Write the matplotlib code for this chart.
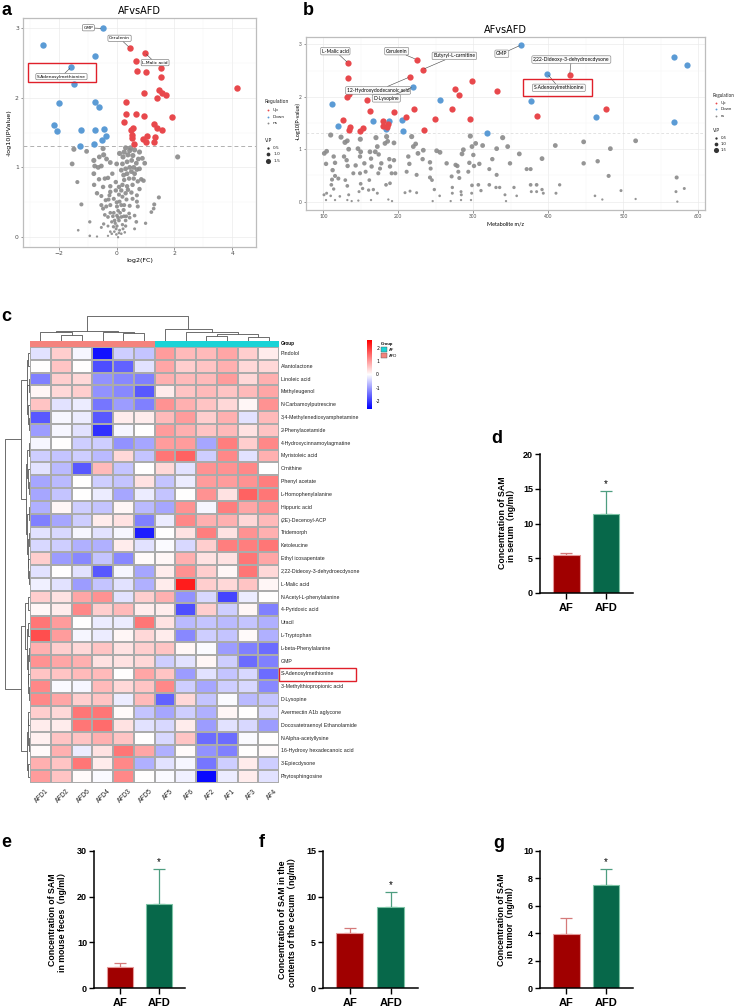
import numpy as np
import matplotlib
matplotlib.use("Agg")
import matplotlib.pyplot as plt
from matplotlib.colors import LinearSegmentedColormap, ListedColormap
from matplotlib.patches import Rectangle

# ---------------- data ----------------
# panel a : volcano (log2FC, -log10 p, VIP)
a_up_fc = [0.46, 0.98, 0.68, 0.71, 1.00, 1.52, 1.54, 4.15, 1.46, 1.57, 0.95, 1.72, 1.40, 0.34, 0.34, 0.67,
           0.94, 1.91, 0.26, 1.29, 0.55, 1.39, 1.57, 0.49, 0.53, 0.53, 1.05, 1.34, 0.90, 1.00, 1.28, 0.61]
a_up_p = [2.71, 2.64, 2.52, 2.38, 2.36, 2.42, 2.30, 2.14, 2.11, 2.07, 2.06, 2.04, 2.00, 1.93, 1.77, 1.76,
          1.73, 1.72, 1.65, 1.62, 1.56, 1.57, 1.54, 1.54, 1.47, 1.42, 1.45, 1.44, 1.40, 1.36, 1.36, 1.34]
a_dn_fc = [-0.48, -2.55, -0.76, -1.57, -1.48, -1.98, -0.76, -0.61, -2.18, -2.05, -1.24, -0.76, -0.44,
           -0.37, -0.49, -1.28, -0.80]
a_dn_p = [2.99, 2.76, 2.59, 2.44, 2.20, 1.92, 1.94, 1.87, 1.61, 1.52, 1.53, 1.54, 1.55, 1.45, 1.39, 1.31, 1.34]
a_ns = [(-1.48, 1.26, 1.1), (-1.04, 1.23, 1.0), (-1.54, 1.05, 1.0), (-1.36, 0.79, 0.8), (-1.22, 0.47, 0.8),
        (-0.93, 0.22, 0.6), (-1.33, 0.10, 0.4), (-0.93, 0.02, 0.4), (-0.68, 0.01, 0.3), (-0.47, 1.27, 1.1),
        (-0.45, 1.18, 1.1), (-0.79, 1.10, 1.1), (-0.76, 1.02, 1.0), (-0.64, 1.00, 1.0), (-0.53, 1.02, 1.0),
        (-0.79, 0.91, 1.0), (-0.22, 1.07, 1.0), (-0.15, 0.91, 0.9), (-0.30, 0.85, 0.9), (-0.41, 0.84, 0.9),
        (-0.61, 0.83, 0.9), (-0.78, 0.75, 0.9), (-0.47, 0.72, 0.9), (-0.68, 0.63, 0.9), (-0.22, 0.73, 0.9),
        (-0.22, 0.65, 0.9), (-0.53, 0.59, 0.8), (-0.38, 0.53, 0.8), (-0.28, 0.54, 0.8), (-0.53, 0.46, 0.8),
        (-0.47, 0.41, 0.8), (-0.36, 0.44, 0.8), (-0.22, 0.46, 0.8), (-0.41, 0.32, 0.7), (-0.30, 0.29, 0.7),
        (-0.22, 0.35, 0.7), (-0.13, 0.30, 0.7), (-0.07, 0.24, 0.7), (0.01, 0.31, 0.7), (0.08, 0.24, 0.7),
        (0.16, 0.29, 0.7), (-0.17, 0.22, 0.6), (-0.45, 0.19, 0.6), (-0.30, 0.16, 0.5), (-0.11, 0.15, 0.6),
        (0.01, 0.16, 0.6), (0.10, 0.10, 0.5), (-0.01, 0.04, 0.4), (0.05, 0.00, 0.3), (-0.17, 0.05, 0.4),
        (-0.30, 0.02, 0.3), (0.20, 0.18, 0.6), (0.31, 0.24, 0.7), (0.33, 0.30, 0.7), (0.45, 0.28, 0.7),
        (0.43, 0.34, 0.7), (0.62, 0.31, 0.7), (0.68, 0.22, 0.7), (0.31, 0.16, 0.6), (0.22, 0.12, 0.5),
        (0.16, 0.05, 0.4), (0.24, 0.39, 0.8), (0.16, 0.46, 0.8), (0.26, 0.46, 0.8), (0.10, 0.51, 0.8),
        (0.01, 0.44, 0.8), (0.34, 0.54, 0.8), (0.20, 0.58, 0.8), (0.08, 0.61, 0.8), (-0.03, 0.67, 0.9),
        (0.16, 0.67, 0.9), (0.31, 0.63, 0.9), (0.39, 0.68, 0.9), (0.51, 0.64, 0.9), (0.70, 0.51, 0.8),
        (0.70, 0.60, 0.8), (0.36, 0.73, 0.9), (0.20, 0.75, 0.9), (0.08, 0.72, 0.9), (-0.03, 0.79, 0.9),
        (0.26, 0.82, 0.9), (0.43, 0.84, 0.9), (0.59, 0.84, 0.9), (0.73, 0.80, 0.9), (0.24, 0.89, 1.0),
        (0.36, 0.91, 1.0), (0.51, 0.94, 1.0), (0.62, 0.91, 1.0), (0.16, 0.96, 1.0), (0.31, 0.98, 1.0),
        (0.45, 1.00, 1.0), (0.59, 1.00, 1.0), (0.70, 0.97, 1.0), (0.20, 1.05, 1.0), (0.36, 1.08, 1.0),
        (0.52, 1.10, 1.0), (0.68, 1.06, 1.0), (0.22, 1.15, 1.1), (0.39, 1.18, 1.1), (0.56, 1.17, 1.1),
        (0.26, 1.22, 1.1), (0.45, 1.24, 1.1), (0.31, 1.28, 1.1), (0.48, 1.28, 1.1), (0.79, 1.22, 1.1),
        (0.89, 1.13, 1.0), (0.97, 1.06, 1.0), (0.79, 0.98, 1.0), (0.85, 0.83, 0.9), (0.93, 0.81, 0.9),
        (0.79, 0.69, 0.9), (0.73, 0.44, 0.8), (0.62, 0.12, 0.5), (1.00, 0.20, 0.6), (1.20, 0.36, 0.7),
        (1.28, 0.41, 0.7), (1.30, 0.47, 0.8), (1.46, 0.57, 0.8), (2.11, 1.15, 1.1), (-0.53, 0.14, 0.5),
        (-0.22, 0.08, 0.4), (-0.05, 0.20, 0.6), (0.05, 0.28, 0.7), (-0.10, 0.35, 0.7), (0.12, 0.35, 0.7),
        (-0.02, 0.12, 0.5), (0.08, 0.06, 0.4), (-0.08, 0.08, 0.4), (0.25, 0.30, 0.7), (0.00, 0.50, 0.8),
        (0.05, 0.38, 0.7), (0.28, 0.07, 0.4), (-0.25, 0.60, 0.8), (-0.10, 0.55, 0.8), (0.45, 0.45, 0.8),
        (0.55, 0.55, 0.8), (0.55, 0.75, 0.9), (-0.60, 1.15, 1.0), (-0.35, 1.12, 1.0), (0.00, 1.05, 1.0),
        (0.10, 1.20, 1.1), (0.62, 1.25, 1.1), (0.75, 1.12, 1.0)]
a_labels = [("GMP", -0.48, 2.99, -0.98, 3.00), ("Cerulenin", 0.46, 2.71, 0.10, 2.85),
            ("L-Malic acid", 0.98, 2.64, 1.33, 2.50), ("S-Adenosylmethionine", -1.57, 2.44, -1.91, 2.30)]

# panel b : m/z plot
b_up_mz = [133.3, 132.9, 133.8, 131.6, 157.8, 162.2, 126.2, 136.0, 133.8, 152.4, 149.3, 179.1, 180.0, 186.7,
           184.4, 194.2, 209.8, 224.4, 232.4, 215.6, 220.9, 233.8, 249.3, 276.0, 281.3, 271.6, 298.7, 295.6,
           331.6, 384.4, 428.4, 476.4]
b_up_p = [2.64, 2.35, 2.05, 1.99, 1.93, 1.72, 1.55, 1.43, 1.36, 1.41, 1.34, 1.53, 1.45, 1.48, 1.43, 1.71,
          1.61, 2.71, 2.52, 2.38, 1.76, 1.36, 1.57, 2.14, 2.03, 1.76, 2.30, 1.57, 2.11, 1.64, 2.41, 1.76]
b_dn_mz = [364.0, 112.0, 119.6, 166.7, 183.1, 188.0, 204.9, 206.7, 220.0, 255.6, 318.7, 398.7, 376.4, 464.0,
           568.0, 584.4, 567.6]
b_dn_p = [2.99, 1.87, 1.45, 1.53, 1.39, 1.54, 1.55, 1.34, 2.19, 1.94, 1.31, 2.44, 1.92, 1.61, 2.76, 2.60, 1.52]
b_ns = [(109.8, 1.27, 1.1), (123.6, 1.23, 1.1), (128.9, 1.13, 1.1), (132.0, 1.16, 1.0), (133.8, 1.00, 1.0),
        (101.3, 0.92, 1.0), (104.4, 0.96, 1.0), (103.6, 0.72, 0.9), (113.8, 0.86, 0.9), (115.6, 0.74, 0.9),
        (112.4, 0.60, 0.9), (115.6, 0.49, 0.8), (111.6, 0.42, 0.8), (120.0, 0.44, 0.8), (110.7, 0.32, 0.7),
        (113.8, 0.24, 0.6), (104.4, 0.16, 0.5), (100.9, 0.13, 0.5), (103.6, 0.03, 0.3), (109.8, 0.11, 0.4),
        (115.6, 0.03, 0.3), (122.0, 0.10, 0.4), (127.6, 0.86, 0.9), (131.1, 0.79, 0.9), (132.4, 0.68, 0.9),
        (129.3, 0.41, 0.7), (132.0, 0.30, 0.7), (133.8, 0.13, 0.5), (132.0, 0.03, 0.3), (140.0, 0.54, 0.8),
        (143.1, 0.69, 0.9), (146.2, 1.01, 1.0), (149.3, 1.19, 1.1), (149.8, 0.95, 1.0), (148.9, 0.86, 0.9),
        (148.9, 0.54, 0.8), (149.8, 0.34, 0.7), (152.4, 0.25, 0.6), (147.6, 0.19, 0.5), (146.7, 0.02, 0.3),
        (137.8, 0.01, 0.3), (154.7, 0.73, 0.9), (156.4, 0.57, 0.8), (162.2, 0.95, 1.0), (163.6, 0.82, 0.9),
        (164.4, 0.67, 0.9), (161.3, 0.41, 0.7), (160.4, 0.22, 0.6), (163.6, 0.03, 0.3), (166.7, 0.23, 0.6),
        (169.3, 0.95, 1.0), (170.2, 1.22, 1.1), (172.0, 1.05, 1.0), (173.8, 0.90, 0.9), (173.3, 0.54, 0.8),
        (172.0, 0.16, 0.5), (177.3, 0.73, 0.9), (175.6, 0.63, 0.8), (182.2, 1.11, 1.0), (184.4, 1.24, 1.1),
        (185.8, 1.15, 1.0), (188.0, 0.81, 0.9), (188.9, 0.67, 0.9), (191.1, 0.54, 0.8), (188.9, 0.35, 0.7),
        (183.6, 0.32, 0.7), (186.7, 0.04, 0.3), (191.6, 0.01, 0.3), (194.2, 1.12, 1.0), (194.2, 0.79, 0.9),
        (196.0, 0.54, 0.8), (213.3, 0.86, 0.9), (214.7, 0.72, 0.9), (211.1, 0.57, 0.8), (208.9, 0.17, 0.5),
        (215.6, 0.20, 0.5), (217.8, 1.24, 1.1), (220.0, 1.05, 1.0), (223.1, 1.10, 1.0), (226.2, 0.92, 1.0),
        (224.4, 0.51, 0.8), (224.4, 0.17, 0.5), (232.4, 0.81, 0.9), (233.3, 0.98, 1.0), (242.2, 0.75, 0.9),
        (243.1, 0.63, 0.8), (242.2, 0.46, 0.8), (244.9, 0.41, 0.7), (245.8, 0.01, 0.3), (248.0, 0.23, 0.6),
        (251.1, 0.97, 1.0), (255.6, 0.94, 1.0), (255.1, 0.11, 0.4), (264.4, 0.73, 0.9), (269.8, 0.01, 0.3),
        (271.1, 0.48, 0.8), (272.0, 0.27, 0.6), (272.0, 0.16, 0.5), (276.4, 0.70, 0.9), (278.7, 0.68, 0.9),
        (280.0, 0.57, 0.8), (281.3, 0.45, 0.8), (283.6, 0.19, 0.5), (284.0, 0.13, 0.5), (283.6, 0.03, 0.3),
        (284.9, 0.91, 1.0), (286.7, 0.99, 1.0), (293.3, 0.57, 0.8), (294.7, 0.74, 0.9), (296.0, 1.25, 1.1),
        (298.2, 1.05, 1.0), (300.0, 0.89, 0.9), (300.9, 0.68, 0.9), (298.2, 0.31, 0.7), (297.8, 0.16, 0.5),
        (296.9, 0.03, 0.3), (303.1, 1.11, 1.0), (308.0, 0.72, 0.9), (306.7, 0.32, 0.7), (310.2, 0.21, 0.6),
        (312.4, 1.07, 1.0), (321.3, 0.62, 0.8), (321.3, 0.32, 0.7), (325.3, 0.81, 0.9), (331.1, 1.01, 1.0),
        (331.1, 0.51, 0.8), (330.2, 0.27, 0.6), (335.1, 0.27, 0.6), (339.1, 1.22, 1.1), (342.2, 0.13, 0.5),
        (343.6, 0.01, 0.3), (345.8, 1.05, 1.0), (348.9, 0.73, 0.9), (354.2, 0.27, 0.6), (361.3, 0.91, 1.0),
        (357.8, 0.11, 0.4), (371.1, 0.62, 0.8), (376.4, 0.62, 0.8), (376.4, 0.32, 0.7), (377.3, 0.19, 0.5),
        (384.4, 0.32, 0.7), (384.4, 0.19, 0.5), (391.6, 0.82, 1.0), (391.6, 0.23, 0.6), (393.3, 0.16, 0.5),
        (409.3, 1.07, 1.0), (410.2, 0.16, 0.5), (415.1, 0.32, 0.6), (447.1, 1.14, 1.0), (447.1, 0.73, 0.9),
        (465.8, 0.77, 0.9), (462.2, 0.11, 0.4), (472.0, 0.04, 0.3), (480.4, 0.49, 0.8), (482.7, 1.01, 1.0),
        (496.9, 0.21, 0.5), (516.4, 1.16, 1.0), (516.4, 0.05, 0.3), (571.1, 0.46, 0.8), (570.2, 0.19, 0.5),
        (581.3, 0.25, 0.5), (572.0, 0.00, 0.3)]
b_labels = [("L-Malic acid", 133.3, 2.64, 116, 2.87), ("Cerulenin", 224.4, 2.71, 197.8, 2.87),
            ("Butyryl-L-carnitine", 232.4, 2.52, 274.7, 2.78), ("GMP", 364.0, 2.99, 338, 2.82),
            ("2,22-Dideoxy-3-dehydroecdysone", 428.4, 2.41, 430.7, 2.71),
            ("12-Hydroxydodecanoic acid", 215.6, 2.38, 173, 2.12), ("D-Lysopine", 220.0, 2.19, 184, 1.97),
            ("S-Adenosylmethionine", 398.7, 2.44, 414, 2.17)]

# panel c : heatmap
hm_cols = ["AFD1", "AFD2", "AFD6", "AFD4", "AFD3", "AFD5", "AF5", "AF6", "AF2", "AF1", "AF3", "AF4"]
hm_rows = ["Pindolol", "Alantolactone", "Linoleic acid", "Methyleugenol", "N-Carbamoylputrescine",
           "3,4-Methylenedioxyamphetamine", "2-Phenylacetamide", "4-Hydroxycinnamoylagmatine",
           "Myristoleic acid", "Ornithine", "Phenyl acetate", "L-Homophenylalanine", "Hippuric acid",
           "(2E)-Decenoyl-ACP", "Tridemorph", "Ketoleucine", "Ethyl icosapentate",
           "2,22-Dideoxy-3-dehydroecdysone", "L-Malic acid", "N-Acetyl-L-phenylalanine", "4-Pyridoxic acid",
           "Uracil", "L-Tryptophan", "L-beta-Phenylalanine", "GMP", "S-Adenosylmethionine",
           "3-Methylthiopropionic acid", "D-Lysopine", "Avermectin A1b aglycone",
           "Docosatetraenoyl Ethanolamide", "N-Alpha-acetyllysine", "16-Hydroxy hexadecanoic acid",
           "3-Epiecdysone", "Phytosphingosine"]
hm_vals = [
    [-0.3, 0.5, -0.1, -2.4, -0.5, -0.6, 1.0, 0.7, 0.7, 0.9, 0.5, 0.2],
    [0.0, 0.6, 0.0, -1.8, -1.6, -0.3, 0.9, 0.5, 0.6, 0.8, 0.4, 0.4],
    [-1.3, 0.5, 0.4, -1.1, -1.2, -1.3, 0.8, 0.7, 0.7, 1.0, 0.4, 0.8],
    [0.1, 0.4, 0.5, -1.1, -1.2, -1.7, 0.2, 0.6, 0.7, 0.6, 0.7, 0.9],
    [0.6, -0.3, -0.2, -1.4, -1.0, -1.3, 1.1, 0.8, 0.6, 0.4, 0.1, 1.1],
    [-1.7, -0.1, -0.2, -1.7, 0.2, 0.2, 0.7, 1.0, 0.5, 0.8, -0.3, 0.7],
    [-1.0, -0.1, -0.3, -2.1, -0.1, 0.0, 1.0, 0.8, 0.6, 0.7, 0.3, 0.6],
    [-0.1, 0.0, -0.5, -0.5, -1.1, -0.9, 1.0, 1.0, -0.9, 1.3, 0.5, 1.2],
    [-0.5, -0.6, -0.5, -0.7, 0.4, -0.6, 1.4, 1.6, -0.5, 1.2, -0.3, 0.8],
    [-0.3, -0.7, -1.7, 0.7, -0.6, 0.0, 0.4, -0.3, 1.1, 1.1, 1.2, 0.0],
    [-0.9, -0.7, 0.0, -0.5, -0.6, 0.3, -0.6, -0.2, 1.0, 1.0, 1.1, 1.3],
    [-0.9, -0.6, 0.0, -0.2, -0.9, -0.2, -0.6, 0.0, 1.1, 0.3, 1.6, 1.4],
    [-0.8, 0.1, -0.5, -0.6, 0.1, -0.7, -0.9, 1.1, -0.1, 1.3, 0.9, 1.1],
    [-1.3, -0.9, -0.5, 0.2, 0.3, -1.3, -0.2, 1.2, 0.8, 0.8, 0.4, 0.7],
    [-0.3, -0.4, -0.1, -0.3, -0.1, -2.3, 0.0, 0.3, 1.3, 0.3, 1.1, 0.8],
    [-0.4, -0.5, -0.8, -0.8, 0.2, -0.3, -0.05, -0.4, 0.5, 1.3, 1.3, 1.4],
    [0.5, -1.0, -1.2, -0.6, -1.2, 0.05, 0.1, 0.8, 0.3, 0.3, 1.4, 0.9],
    [-0.3, 0.0, -0.3, -1.7, -0.1, -0.9, 0.2, 1.1, 0.5, 0.1, 1.4, 0.4],
    [-0.15, -0.3, -1.0, -0.6, -0.3, -0.8, 0.2, 2.3, 0.5, 0.4, 0.6, 0.1],
    [0.5, 0.3, 0.9, 1.1, -0.3, 0.5, 0.8, -1.1, -0.4, -1.9, -0.2, 0.0],
    [0.1, 0.2, 1.2, 0.5, 0.7, 0.2, 0.2, -1.8, 0.5, -0.5, 0.1, -1.3],
    [1.4, 1.0, 0.0, -0.2, -0.2, 1.4, 0.3, -0.7, -0.6, -0.7, -0.6, -0.8],
    [1.8, 1.0, -0.1, -0.2, 0.1, 0.4, 0.2, -1.2, -0.5, -0.6, 0.05, -0.8],
    [0.8, 0.5, 0.4, 0.6, 0.3, 0.5, 0.6, 0.1, -0.05, -1.0, -1.3, -1.5],
    [1.1, 0.9, 0.8, 0.3, 0.3, 0.4, -0.5, -0.3, 0.1, -0.5, -1.5, -1.3],
    [0.6, 0.6, 0.7, 0.7, 0.0, 0.9, 0.6, -1.0, -0.3, -0.6, -0.4, -1.5],
    [1.2, -0.05, -0.1, 0.7, 0.4, 0.6, 1.2, -0.5, -0.9, -0.5, -0.4, -1.2],
    [1.2, 0.9, 0.5, 0.6, -0.2, 0.7, -1.6, 0.4, -0.6, -0.05, -0.7, -0.6],
    [0.5, 0.4, 1.4, 1.4, 0.05, -0.6, -0.9, -0.5, -0.8, 0.1, 0.0, -0.4],
    [0.2, 0.2, 1.4, 1.5, 0.3, -0.3, -0.4, 0.2, -1.0, -0.3, -0.4, -1.0],
    [0.15, 0.6, 0.6, 0.8, 0.6, 0.0, -0.4, 0.6, -1.5, -1.5, -0.05, 0.0],
    [0.05, 0.8, -0.2, 0.3, 1.4, 0.9, -0.8, 0.05, -1.1, -1.3, 0.0, 0.05],
    [0.8, 0.6, 1.4, 0.2, 1.2, -0.8, -0.3, -0.1, -1.4, -0.5, 0.2, -0.5],
    [1.0, 0.6, 0.05, -0.05, 1.2, 0.0, -0.05, -0.15, -2.5, -0.2, 0.2, -0.3],
]
# dendrograms: [left, right, height]
col_tree = [[[0, [1, 2, 5], 8], [3, [4, 5, 7], 8], 9.3], [6, [7, [[8, 9, 4], [10, 11, 3.5], 6.5], 8.3], 10.7], 24]
row_tree = [[[[0, 1, 1.7], [[2, 3, 1.2], [4, [5, 6, 1.0], 1.6], 2.4], 3.2],
             [[[7, 8, 1.2], [9, [10, 11, 1.0], 1.5], 2.4],
              [[12, 13, 1.0], [[14, 15, 1.2], [16, [17, 18, 1.1], 1.6], 2.1], 2.7], 3.6], 8.3],
            [[[19, 20, 2.0], [[21, 22, 1.5], [[23, 24, 1.3], [25, [26, 27, 1.2], 1.6], 2.2], 2.9], 4.5],
             [[[28, 29, 1.4], [30, 31, 1.2], 2.3], [32, 33, 1.5], 3.1], 8.0], 23.3]

# panels d-g : bar charts (mean, upper error)
bar_groups = ["AF", "AFD"]
d_mean, d_err = [5.5, 11.35], [0.2, 3.3]
e_mean, e_err = [4.5, 18.5], [0.9, 7.5]
f_mean, f_err = [6.05, 8.84], [0.55, 1.64]
g_mean, g_err = [3.94, 7.54], [1.17, 1.15]

# ---------------- figure ----------------
W, H = 740, 1007
fig = plt.figure(figsize=(7.4, 10.07), dpi=100)


def px_axes(l, t, r, b, **kw):
    return fig.add_axes([l / W, 1 - b / H, (r - l) / W, (b - t) / H], **kw)


def vip_size(v):
    d = 1.2 + 3.6 * v
    return (d * 0.72) ** 2


RED, BLUE, GREY = "#E8484C", "#5B9BD5", "#8A8A8A"


def volcano_style(ax, fs, family):
    for s in ax.spines.values():
        s.set_color("#BDBDBD")
        s.set_linewidth(0.9)
    ax.grid(which="major", color="#EBEBEB", lw=0.5)
    ax.grid(which="minor", color="#F4F4F4", lw=0.3)
    ax.set_axisbelow(True)
    ax.tick_params(which="major", length=1.8, width=0.4, color="#444444", labelcolor="#4D4D4D",
                   labelsize=fs, pad=1.2)
    ax.tick_params(which="minor", length=0)
    for lab in ax.get_xticklabels() + ax.get_yticklabels():
        lab.set_family(family)


# panel a
ax_a = px_axes(23, 18, 256, 247)
ns_x, ns_y, ns_v = zip(*a_ns)
ax_a.scatter(ns_x, ns_y, s=[vip_size(v) for v in ns_v], c=GREY, alpha=0.9, lw=0, zorder=2)
ax_a.scatter(a_dn_fc, a_dn_p, s=vip_size(1.45), c=BLUE, lw=0, zorder=3)
ax_a.scatter(a_up_fc, a_up_p, s=vip_size(1.45), c=RED, lw=0, zorder=3)
ax_a.axhline(1.30, color="#B0B0B0", ls=(0, (4, 3)), lw=0.7, zorder=1)
ax_a.set_xlim(-3.24, 4.82)
ax_a.set_ylim(-0.14, 3.14)
ax_a.set_xticks([-2, 0, 2, 4])
ax_a.set_xticks([-3, -1, 1, 3], minor=True)
ax_a.set_yticks([0, 1, 2, 3])
ax_a.set_yticks([0.5, 1.5, 2.5], minor=True)
volcano_style(ax_a, 4.3, "DejaVu Sans")
ax_a.set_xlabel("log2(FC)", fontsize=4.6, labelpad=1.5)
ax_a.set_ylabel("-log10(PValue)", fontsize=4.6, labelpad=2)
ax_a.set_title("AFvsAFD", fontsize=7, pad=3)
for name, px, py, tx, ty in a_labels:
    ax_a.annotate(name, xy=(px, py), xytext=(tx, ty), fontsize=3.2, ha="center", va="center",
                  bbox=dict(boxstyle="round,pad=0.25", fc="white", ec="#666666", lw=0.4),
                  arrowprops=dict(arrowstyle="-", color="#444444", lw=0.4, shrinkA=0, shrinkB=1.5),
                  zorder=5)
ax_a.add_patch(Rectangle((-3.08, 2.23), 2.37, 0.27, fill=False, ec="#E0202A", lw=1.0, zorder=6))

# panel b
ax_b = px_axes(306, 37, 705, 210)
bx, by, bv = zip(*b_ns)
ax_b.scatter(bx, by, s=[vip_size(v) for v in bv], c=GREY, alpha=0.9, lw=0, zorder=2)
ax_b.scatter(b_dn_mz, b_dn_p, s=vip_size(1.4), c=BLUE, lw=0, zorder=3)
ax_b.scatter(b_up_mz, b_up_p, s=vip_size(1.4), c=RED, lw=0, zorder=3)
ax_b.axhline(1.30, color="#D8D8D8", ls=(0, (4, 3)), lw=0.5, zorder=1)
ax_b.set_xlim(76.9, 608.9)
ax_b.set_ylim(-0.16, 3.14)
ax_b.set_xticks([100, 200, 300, 400, 500, 600])
ax_b.set_xticks([150, 250, 350, 450, 550], minor=True)
ax_b.set_yticks([0, 1, 2, 3])
ax_b.set_yticks([0.5, 1.5, 2.5], minor=True)
volcano_style(ax_b, 3.4, "Lato")
ax_b.set_xlabel("Metabolite m/z", fontsize=4.0, family="Lato", labelpad=1.5)
ax_b.set_title("AFvsAFD", fontsize=7, pad=3)
for name, px, py, tx, ty in b_labels:
    ax_b.annotate(name, xy=(px, py), xytext=(tx, ty), fontsize=3.6, family="Lato", ha="center", va="center",
                  bbox=dict(boxstyle="round,pad=0.25", fc="#FAFAFA", ec="#777777", lw=0.4),
                  arrowprops=dict(arrowstyle="-", color="#444444", lw=0.4, shrinkA=0, shrinkB=1.5),
                  zorder=5)
ax_b.add_patch(Rectangle((366.7, 2.02), 92, 0.31, fill=False, ec="#E0202A", lw=1.0, zorder=6))

# panel c : heatmap
cmap = LinearSegmentedColormap.from_list("bwr_hm", ["#0000FF", "#FFFFFF", "#FF0000"])
VMIN, VMAX = -2.6, 2.6
ax_h = px_axes(30, 347, 279, 783)
ax_h.pcolormesh(np.arange(len(hm_cols) + 1), np.arange(len(hm_rows) + 1), np.array(hm_vals), cmap=cmap,
                vmin=VMIN, vmax=VMAX, edgecolors="#ABABAB", linewidth=0.35)
ax_h.set_xlim(0, len(hm_cols))
ax_h.set_ylim(len(hm_rows), 0)
ax_h.axis("off")
for i, name in enumerate(hm_rows):
    ax_h.text(len(hm_cols) + 0.08, i + 0.5, name, fontsize=3.8, family="Liberation Sans", va="center",
              ha="left", color="#222222")
for j, name in enumerate(hm_cols):
    ax_h.text(j + 0.75, len(hm_rows) + 0.35, name, fontsize=4.8, family="Liberation Sans", rotation=45,
              rotation_mode="anchor", ha="right", va="top", color="#222222")

group_codes = [0 if c.startswith("AFD") else 1 for c in hm_cols]
ax_g = px_axes(30, 341, 279, 346.5)
ax_g.pcolormesh(np.arange(len(hm_cols) + 1), [0, 1], np.array([group_codes]),
                cmap=ListedColormap(["#F4837D", "#19D3D6"]), vmin=0, vmax=1, edgecolors="none")
ax_g.set_xlim(0, len(hm_cols))
ax_g.axis("off")
ax_g.text(len(hm_cols) + 0.08, 0.5, "Group", fontsize=3.3, fontweight="bold", family="Liberation Sans",
          va="center", ha="left")


def draw_tree(ax, node, horizontal):
    if isinstance(node, int):
        return node + 0.5, 0.0
    left, right, h = node
    p1, h1 = draw_tree(ax, left, horizontal)
    p2, h2 = draw_tree(ax, right, horizontal)
    if horizontal:
        ax.plot([p1, p1, p2, p2], [h1, h, h, h2], color="#555555", lw=0.6, solid_capstyle="butt")
    else:
        ax.plot([h1, h, h, h2], [p1, p1, p2, p2], color="#555555", lw=0.6, solid_capstyle="butt")
    return (p1 + p2) / 2, h


ax_cd = px_axes(30, 315, 279, 340.5)
draw_tree(ax_cd, col_tree, True)
ax_cd.set_xlim(0, len(hm_cols))
ax_cd.set_ylim(0, 24.5)
ax_cd.axis("off")

ax_rd = px_axes(4, 347, 30, 783)
draw_tree(ax_rd, row_tree, False)
ax_rd.set_xlim(24, 0)
ax_rd.set_ylim(len(hm_rows), 0)
ax_rd.axis("off")

ax_cb = px_axes(367, 340, 372, 409)
ax_cb.imshow(np.linspace(VMIN, VMAX, 200).reshape(-1, 1), cmap=cmap, aspect="auto", origin="lower",
             extent=[0, 1, VMIN, VMAX])
ax_cb.set_xticks([])
ax_cb.yaxis.tick_right()
ax_cb.set_yticks([-2, -1, 0, 1, 2])
ax_cb.set_yticklabels(["-2", "-1", "0", "1", "2"])
ax_cb.tick_params(axis="y", length=0, labelsize=3.3, pad=3)
for s in ax_cb.spines.values():
    s.set_visible(False)


# panels d-g : bars
def bar_panel(ax, means, errs, ymax, step):
    x = np.arange(len(bar_groups))
    fills = ["#A00000", "#07684A"]
    edges = ["#E59A9A", "#7CC3A5"]
    ecols = ["#D57A7A", "#4E9E80"]
    ax.bar(x, means, width=0.66, color=fills, edgecolor=edges, linewidth=0.8, zorder=2)
    for i in range(len(x)):
        ax.errorbar(x[i], means[i], yerr=[[0], [errs[i]]], fmt="none", ecolor=ecols[i], elinewidth=0.9,
                    capsize=4, capthick=0.9, zorder=1)
    ax.text(x[1], means[1] + errs[1] + ymax * 0.015, "*", ha="center", va="bottom", fontsize=7,
            family="Liberation Sans")
    ax.set_xlim(-0.66, 1.67)
    ax.set_ylim(0, ymax)
    ax.set_yticks(np.arange(0, ymax + 0.01, step))
    ax.set_xticks(x)
    ax.set_xticklabels(bar_groups)
    for s in ["top", "right"]:
        ax.spines[s].set_visible(False)
    for s in ["left", "bottom"]:
        ax.spines[s].set_linewidth(1.1)
    ax.tick_params(axis="y", length=3.5, width=1.0, labelsize=6.5, pad=1.5)
    ax.tick_params(axis="x", length=4, width=1.0, labelsize=8, pad=3)
    for lab in ax.get_xticklabels() + ax.get_yticklabels():
        lab.set_fontweight("bold")
        lab.set_family("Liberation Sans")


ax_d = px_axes(540, 454, 633, 593)
bar_panel(ax_d, d_mean, d_err, 20, 5)
ax_e = px_axes(94, 851, 185, 988)
bar_panel(ax_e, e_mean, e_err, 30, 10)
ax_f = px_axes(323, 851, 418, 988)
bar_panel(ax_f, f_mean, f_err, 15, 5)
ax_g2 = px_axes(540, 851, 633, 988)
bar_panel(ax_g2, g_mean, g_err, 10, 2)

# ---------------- overlay: letters, legends, extra labels ----------------
ov = fig.add_axes([0, 0, 1, 1], zorder=10)
ov.set_xlim(0, W)
ov.set_ylim(H, 0)
ov.axis("off")
ov.patch.set_alpha(0)

for letter, x, y in [("a", 1.5, 15), ("b", 303, 15), ("c", 1.5, 320.7), ("d", 491.5, 443.3),
                     ("e", 1.5, 847.3), ("f", 259, 847.3), ("g", 493, 847.8)]:
    ov.text(x, y, letter, fontsize=13, fontweight="bold", family="Liberation Sans", va="baseline", ha="left")


def reg_legend(x0, y0, dy, fs, family):
    ov.text(x0, y0, "Regulation", fontsize=fs, family=family, va="center", ha="left", color="#222222")
    for k, (lab, col) in enumerate([("Up", RED), ("Down", BLUE), ("ns", GREY)]):
        yy = y0 + dy * (k + 1.15)
        ov.scatter([x0 + 3.2], [yy], s=1.8, c=col, lw=0)
        ov.text(x0 + 8.5, yy, lab, fontsize=fs * 0.92, family=family, va="center", ha="left", color="#222222")
    yv = y0 + dy * 5.6
    ov.text(x0, yv, "VIP", fontsize=fs, family=family, va="center", ha="left", color="#222222")
    for k, v in enumerate([0.5, 1.0, 1.5]):
        yy = yv + dy * (k + 1.1)
        ov.scatter([x0 + 3.2], [yy], s=vip_size(v) * 0.6, c="#333333", lw=0)
        ov.text(x0 + 8.5, yy, f"{v:.1f}", fontsize=fs * 0.92, family=family, va="center", ha="left",
                color="#222222")


reg_legend(264.5, 102, 6.8, 3.3, "DejaVu Sans")
reg_legend(712.5, 96, 6.2, 3.3, "Lato")
ov.text(297.5, 121, "-Log10(P-value)", rotation=90, fontsize=4.0, family="Lato", ha="center", va="center")

# heatmap legends
ov.text(381, 343.5, "Group", fontsize=3.0, fontweight="bold", family="Liberation Sans", va="center")
ov.add_patch(Rectangle((381, 346.8), 6, 5.5, fc="#19D3D6", ec="#555555", lw=0.3))
ov.add_patch(Rectangle((381, 352.8), 6, 5.5, fc="#F4837D", ec="#555555", lw=0.3))
ov.text(389, 349.6, "AF", fontsize=3.0, family="Liberation Sans", va="center")
ov.text(389, 355.6, "AFD", fontsize=3.0, family="Liberation Sans", va="center")
ov.add_patch(Rectangle((279, 668), 77, 13, fill=False, ec="#E0202A", lw=1.0))

# bar y labels
cjk = ["Liberation Sans", "Noto Sans CJK SC"]
for x, y, txt in [(507, 523, "Concentration of SAM\nin serum（ng/ml）"),
                  (57.5, 919.5, "Concentration of SAM\nin mouse feces（ng/ml）"),
                  (287.5, 919.5, "Concentration of SAM in the\ncontents of the cecum（ng/ml）"),
                  (506, 919.5, "Concentration of SAM\nin tumor（ng/ml）")]:
    ov.text(x, y, txt, rotation=90, ha="center", va="center", fontsize=6.3, fontweight="bold", family=cjk,
            linespacing=1.05, multialignment="center")

fig.savefig("out.png", dpi=100, facecolor="white")
